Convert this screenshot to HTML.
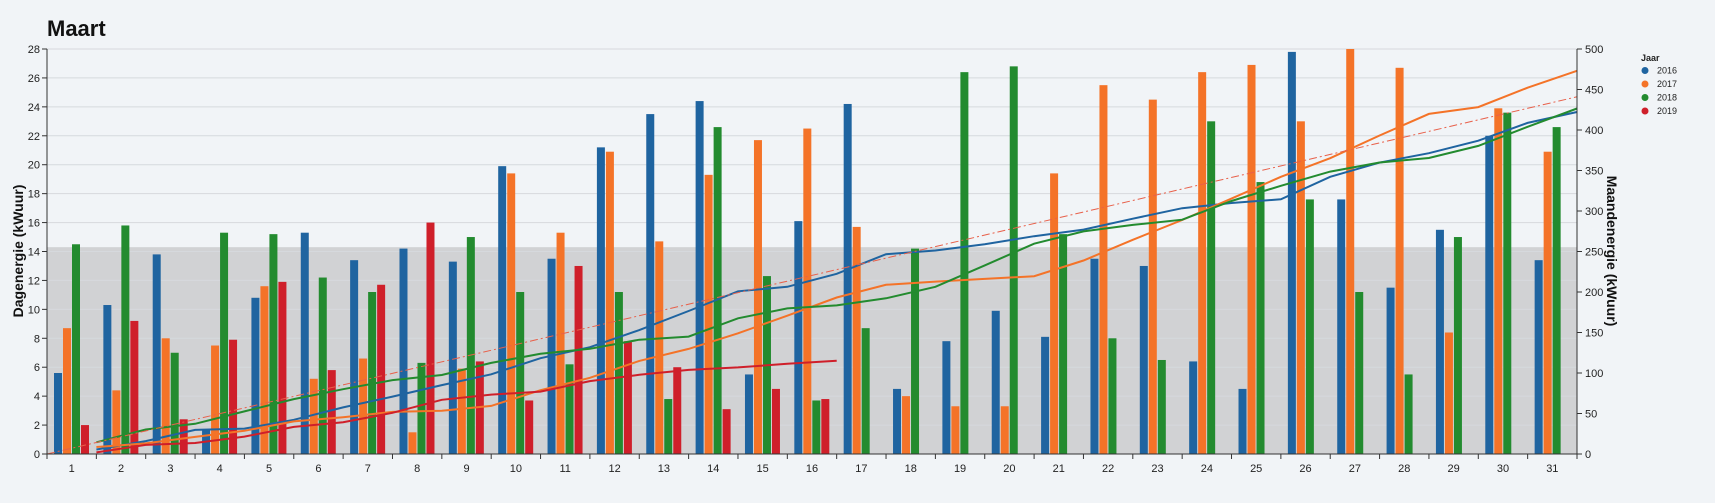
<!DOCTYPE html>
<html><head><meta charset="utf-8"><style>
html,body{margin:0;padding:0;background:#f1f4f7;}
svg{display:block;font-family:"Liberation Sans",Arial,sans-serif;}
</style></head><body>
<svg id="c" width="1715" height="503" xmlns="http://www.w3.org/2000/svg"></svg>
<script>
const s=document.getElementById('c');
const X0=47,X1=1577,Y0=454,Y28=49;
const dw=(X1-X0)/31, ky=(Y0-Y28)/28, kr=(Y0-Y28)/500;
const col=['#1f64a0','#f47328','#238b2f','#cf1f2a'];
const d=[
[5.6,8.7,14.5,2.0],[10.3,4.4,15.8,9.2],[13.8,8.0,7.0,2.4],[1.7,7.5,15.3,7.9],[10.8,11.6,15.2,11.9],
[15.3,5.2,12.2,5.8],[13.4,6.6,11.2,11.7],[14.2,1.5,6.3,16.0],[13.3,5.9,15.0,6.4],[19.9,19.4,11.2,3.7],
[13.5,15.3,6.2,13.0],[21.2,20.9,11.2,7.8],[23.5,14.7,3.8,6.0],[24.4,19.3,22.6,3.1],[5.5,21.7,12.3,4.5],
[16.1,22.5,3.7,3.8],[24.2,15.7,8.7,null],[4.5,4.0,14.2,null],[7.8,3.3,26.4,null],[9.9,3.3,26.8,null],
[8.1,19.4,15.2,null],[13.5,25.5,8.0,null],[13.0,24.5,6.5,null],[6.4,26.4,23.0,null],[4.5,26.9,18.8,null],
[27.8,23.0,17.6,null],[17.6,28.0,11.2,null],[11.5,26.7,5.5,null],[15.5,8.4,15.0,null],[22.0,23.9,23.6,null],
[13.4,20.9,22.6,null]];
let h='';
h+=`<rect x="${X0}" y="${Y0-14.3*ky}" width="${X1-X0}" height="${14.3*ky}" fill="#d1d2d4"/>`;
for(let v=2;v<=28;v+=2){const y=Y0-v*ky;h+=`<line x1="${X0}" x2="${X1}" y1="${y}" y2="${y}" stroke="#d6d9dd" stroke-width="1"/>`;}
for(let v=0;v<=28;v+=2){const y=Y0-v*ky;h+=`<line x1="${X0-5}" x2="${X0}" y1="${y}" y2="${y}" stroke="#333"/><text x="${X0-7}" y="${y+4}" font-size="11" text-anchor="end" fill="#222">${v}</text>`;}
for(let v=0;v<=500;v+=50){const y=Y0-v*kr;h+=`<line x1="${X1}" x2="${X1+5}" y1="${y}" y2="${y}" stroke="#333"/><text x="${X1+8}" y="${y+4}" font-size="11" fill="#222">${v}</text>`;}
d.forEach((r,i)=>{const x=X0+i*dw+7;r.forEach((v,j)=>{if(v==null)return;h+=`<rect x="${x+j*9}" y="${Y0-v*ky}" width="8" height="${v*ky}" fill="${col[j]}"/>`;});});
for(let j=0;j<4;j++){let c=0,pts=[];const n=j==3?16:31;
 for(let i=0;i<n;i++){c+=d[i][j];let x=X0+(i+1)*dw;pts.push(x.toFixed(1)+','+(Y0-c*kr).toFixed(1));}
 h+=`<polyline points="${pts.join(' ')}" fill="none" stroke="${col[j]}" stroke-width="2"/>`;}
h+=`<line x1="${X0}" y1="${Y0}" x2="${X1}" y2="${Y0-441*kr}" stroke="#e8604a" stroke-width="1" stroke-dasharray="8,3,2,3"/>`;
h+=`<line x1="${X0}" x2="${X0}" y1="${Y28}" y2="${Y0}" stroke="#333"/><line x1="${X1}" x2="${X1}" y1="${Y28}" y2="${Y0}" stroke="#333"/><line x1="${X0}" x2="${X1}" y1="${Y0}" y2="${Y0}" stroke="#333"/>`;
for(let i=0;i<=31;i++){const x=X0+i*dw;h+=`<line x1="${x}" x2="${x}" y1="${Y0}" y2="${Y0+5}" stroke="#333"/>`;}
for(let i=0;i<31;i++){h+=`<text x="${X0+(i+.5)*dw}" y="472" font-size="11" text-anchor="middle" fill="#222">${i+1}</text>`;}
h+=`<text x="47" y="36" font-size="22" font-weight="bold" fill="#111">Maart</text>`;
h+=`<text transform="translate(23,251) rotate(-90)" font-size="14" font-weight="bold" text-anchor="middle" fill="#111">Dagenergie (kWuur)</text>`;
h+=`<text transform="translate(1607,251) rotate(90)" font-size="14" font-weight="bold" text-anchor="middle" fill="#111">Maandenergie (kWuur)</text>`;
h+=`<text x="1641" y="61" font-size="9" font-weight="bold" fill="#222">Jaar</text>`;
['2016','2017','2018','2019'].forEach((t,j)=>{const y=70.5+j*13.5;h+=`<circle cx="1645" cy="${y}" r="3.5" fill="${col[j]}"/><text x="1657" y="${y+3}" font-size="9" fill="#222">${t}</text>`;});
s.innerHTML=h;
</script>
</body></html>
